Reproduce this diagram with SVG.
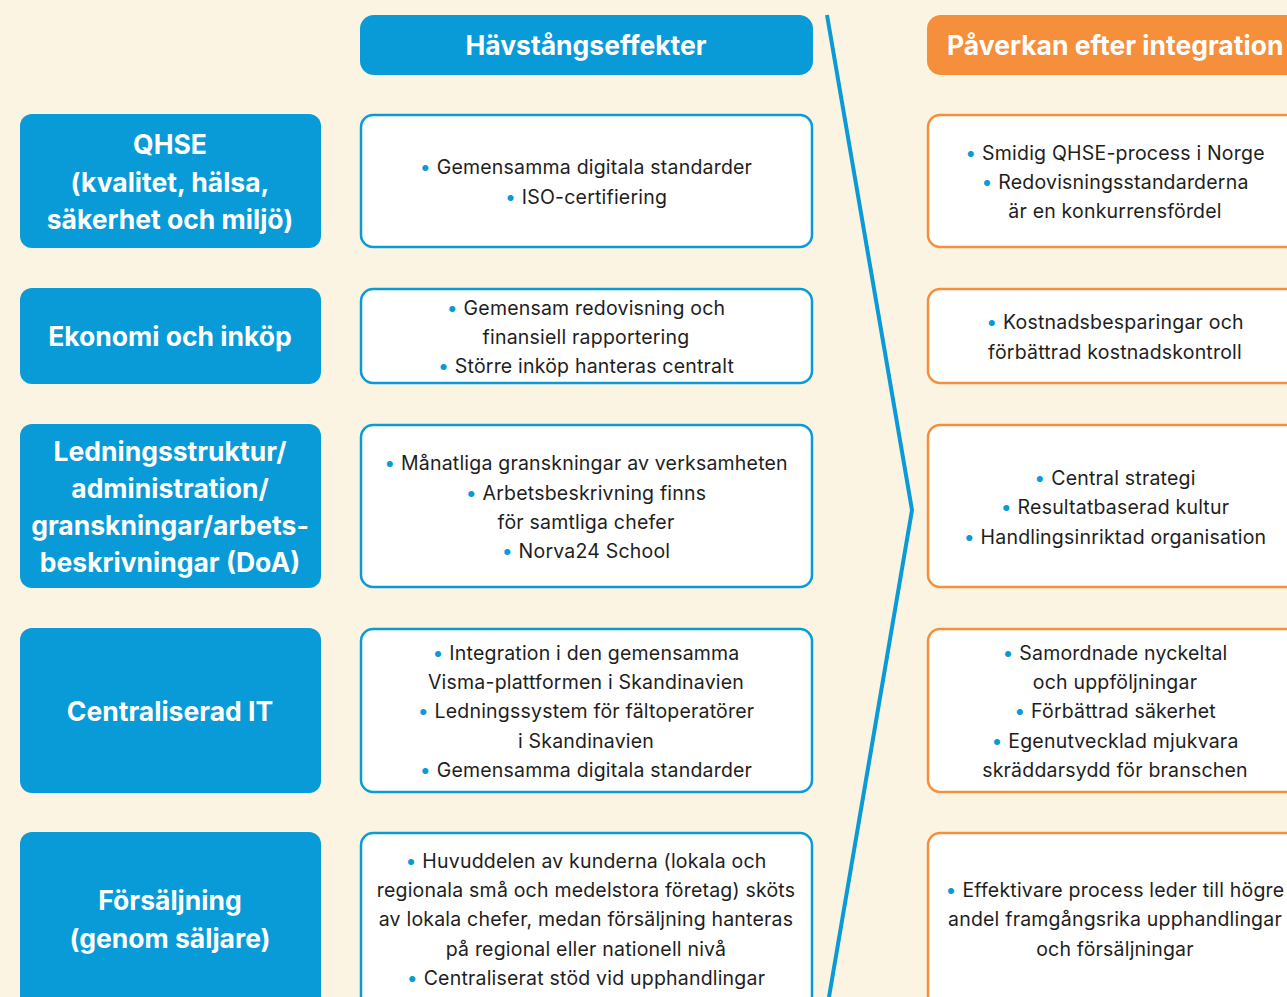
<svg xmlns="http://www.w3.org/2000/svg" width="1287" height="997" viewBox="0 0 1287 997">
<style>
.bg{fill:#FCF4E3}
.lb{fill:#089BD7}
.hd{fill:#089BD7}
.ho{fill:#F58F3C}
.mb{fill:#FFFFFF;stroke:#089BD7;stroke-width:2.5}
.rb{fill:#FFFFFF;stroke:#F58F3C;stroke-width:2.5}
.lt{font-family:Inter,"Liberation Sans",sans-serif;font-weight:700;font-size:26.5px;fill:#FFFFFF;text-anchor:middle}
.ht{font-family:Inter,"Liberation Sans",sans-serif;font-weight:700;font-size:26.5px;fill:#FFFFFF}
.bt{font-family:Inter,"Liberation Sans",sans-serif;font-size:19.5px;letter-spacing:0.2px;fill:#1E1E1E;text-anchor:middle}
.d{fill:#089BD7}
.chev{fill:none;stroke:#089BD7;stroke-width:4}
</style>
<rect class="bg" x="0" y="0" width="1287" height="997"/>

<g id="connectors">
<polyline class="chev" points="827,15 912,510 829,997"/>
</g>

<g id="header-havstang">
<rect class="hd" x="360" y="15" width="453" height="60" rx="14"/>
<text class="ht" x="586" y="55" text-anchor="middle">Hävstångseffekter</text>
</g>
<g id="header-paverkan">
<rect class="ho" x="927" y="15" width="380" height="60" rx="14"/>
<text class="ht" x="947" y="55">Påverkan efter integration</text>
</g>

<!-- Left category nodes -->
<g id="cat-qhse">
<rect class="lb" x="20" y="114" width="301" height="134" rx="12"/>
<text class="lt" x="170" y="154">QHSE</text>
<text class="lt" x="170" y="192">(kvalitet, hälsa,</text>
<text class="lt" x="170" y="229">säkerhet och miljö)</text>
</g>
<g id="cat-ekonomi">
<rect class="lb" x="20" y="288" width="301" height="96" rx="12"/>
<text class="lt" x="170" y="346">Ekonomi och inköp</text>
</g>
<g id="cat-ledning">
<rect class="lb" x="20" y="424" width="301" height="164" rx="12"/>
<text class="lt" x="170" y="461">Ledningsstruktur/</text>
<text class="lt" x="170" y="498">administration/</text>
<text class="lt" x="170" y="535">granskningar/arbets-</text>
<text class="lt" x="170" y="572">beskrivningar (DoA)</text>
</g>
<g id="cat-it">
<rect class="lb" x="20" y="628" width="301" height="165" rx="12"/>
<text class="lt" x="170" y="721">Centraliserad IT</text>
</g>
<g id="cat-forsaljning">
<rect class="lb" x="20" y="832" width="301" height="185" rx="12"/>
<text class="lt" x="170" y="910">Försäljning</text>
<text class="lt" x="170" y="948">(genom säljare)</text>
</g>

<!-- Middle: Hävstångseffekter -->
<g id="lev-qhse">
<rect class="mb" x="361" y="115" width="451" height="132" rx="12"/>
<text class="bt" x="586" y="174"><tspan class="d">•</tspan>  Gemensamma digitala standarder</text>
<text class="bt" x="586" y="204"><tspan class="d">•</tspan>  ISO-certifiering</text>
</g>
<g id="lev-ekonomi">
<rect class="mb" x="361" y="289" width="451" height="94" rx="12"/>
<text class="bt" x="586" y="315"><tspan class="d">•</tspan>  Gemensam redovisning och</text>
<text class="bt" x="586" y="344">finansiell rapportering</text>
<text class="bt" x="586" y="373"><tspan class="d">•</tspan>  Större inköp hanteras centralt</text>
</g>
<g id="lev-ledning">
<rect class="mb" x="361" y="425" width="451" height="162" rx="12"/>
<text class="bt" x="586" y="470"><tspan class="d">•</tspan>  Månatliga granskningar av verksamheten</text>
<text class="bt" x="586" y="500"><tspan class="d">•</tspan>  Arbetsbeskrivning finns</text>
<text class="bt" x="586" y="529">för samtliga chefer</text>
<text class="bt" x="586" y="558"><tspan class="d">•</tspan>  Norva24 School</text>
</g>
<g id="lev-it">
<rect class="mb" x="361" y="629" width="451" height="163" rx="12"/>
<text class="bt" x="586" y="660"><tspan class="d">•</tspan>  Integration i den gemensamma</text>
<text class="bt" x="586" y="689">Visma-plattformen i Skandinavien</text>
<text class="bt" x="586" y="718"><tspan class="d">•</tspan>  Ledningssystem för fältoperatörer</text>
<text class="bt" x="586" y="748">i Skandinavien</text>
<text class="bt" x="586" y="777"><tspan class="d">•</tspan>  Gemensamma digitala standarder</text>
</g>
<g id="lev-forsaljning">
<rect class="mb" x="361" y="833" width="451" height="184" rx="12"/>
<text class="bt" x="586" y="868"><tspan class="d">•</tspan>  Huvuddelen av kunderna (lokala och</text>
<text class="bt" x="586" y="897">regionala små och medelstora företag) sköts</text>
<text class="bt" x="586" y="926">av lokala chefer, medan försäljning hanteras</text>
<text class="bt" x="586" y="956">på regional eller nationell nivå</text>
<text class="bt" x="586" y="985"><tspan class="d">•</tspan>  Centraliserat stöd vid upphandlingar</text>
</g>

<!-- Right: Påverkan efter integration -->
<g id="imp-qhse">
<rect class="rb" x="928" y="115" width="380" height="132" rx="12"/>
<text class="bt" x="1115" y="160"><tspan class="d">•</tspan>  Smidig QHSE-process i Norge</text>
<text class="bt" x="1115" y="189"><tspan class="d">•</tspan>  Redovisningsstandarderna</text>
<text class="bt" x="1115" y="218">är en konkurrensfördel</text>
</g>
<g id="imp-ekonomi">
<rect class="rb" x="928" y="289" width="380" height="94" rx="12"/>
<text class="bt" x="1115" y="329"><tspan class="d">•</tspan>  Kostnadsbesparingar och</text>
<text class="bt" x="1115" y="359">förbättrad kostnadskontroll</text>
</g>
<g id="imp-ledning">
<rect class="rb" x="928" y="425" width="380" height="162" rx="12"/>
<text class="bt" x="1115" y="485"><tspan class="d">•</tspan>  Central strategi</text>
<text class="bt" x="1115" y="514"><tspan class="d">•</tspan>  Resultatbaserad kultur</text>
<text class="bt" x="1115" y="544"><tspan class="d">•</tspan>  Handlingsinriktad organisation</text>
</g>
<g id="imp-it">
<rect class="rb" x="928" y="629" width="380" height="163" rx="12"/>
<text class="bt" x="1115" y="660"><tspan class="d">•</tspan>  Samordnade nyckeltal</text>
<text class="bt" x="1115" y="689">och uppföljningar</text>
<text class="bt" x="1115" y="718"><tspan class="d">•</tspan>  Förbättrad säkerhet</text>
<text class="bt" x="1115" y="748"><tspan class="d">•</tspan>  Egenutvecklad mjukvara</text>
<text class="bt" x="1115" y="777">skräddarsydd för branschen</text>
</g>
<g id="imp-forsaljning">
<rect class="rb" x="928" y="833" width="380" height="184" rx="12"/>
<text class="bt" x="1115" y="897"><tspan class="d">•</tspan>  Effektivare process leder till högre</text>
<text class="bt" x="1115" y="926">andel framgångsrika upphandlingar</text>
<text class="bt" x="1115" y="956">och försäljningar</text>
</g>
</svg>
